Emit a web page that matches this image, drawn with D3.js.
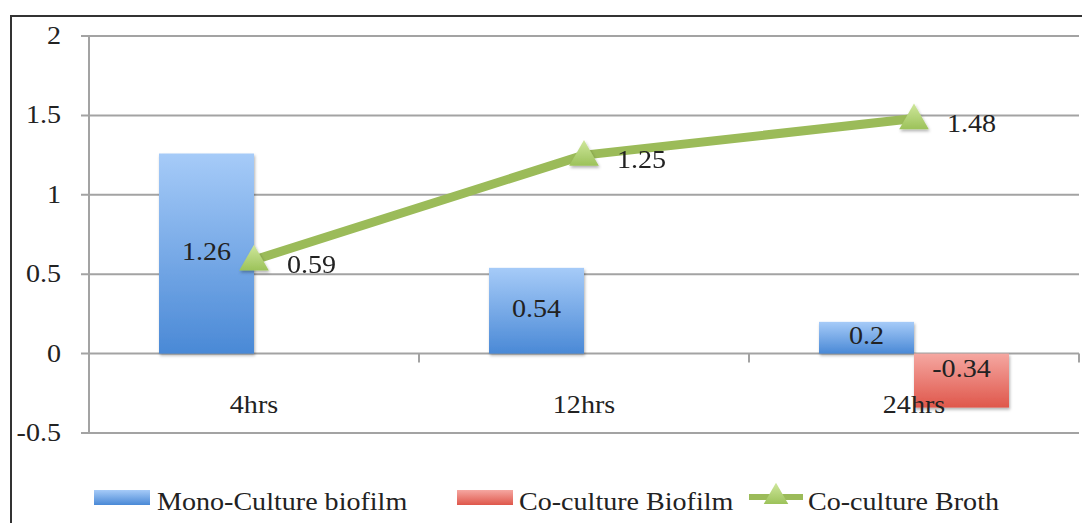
<!DOCTYPE html>
<html><head><meta charset="utf-8">
<script src="https://cdn.jsdelivr.net/npm/d3@7"></script>
<style>
html,body{margin:0;padding:0;background:#fff;}
svg{display:block;}
text{font-family:"Liberation Serif","Times New Roman",serif;fill:#222;}
</style></head>
<body>
<svg id="chart" width="1082" height="523"></svg>
<script>
const categories = ["4hrs", "12hrs", "24hrs"];
const monoBiofilm = [1.26, 0.54, 0.2];
const coBiofilm = [null, null, -0.34];
const coBroth = [0.59, 1.25, 1.48];
const yTicks = [-0.5, 0, 0.5, 1, 1.5, 2];
const seriesNames = ["Mono-Culture biofilm", "Co-culture Biofilm", "Co-culture Broth"];

const svg = d3.select("#chart");
const SX = 1.08, FS = 26;
function txt(g, x, y, s, anchor) {
  return g.append("text").attr("transform", `translate(${x},${y}) scale(${SX},1)`)
    .attr("text-anchor", anchor || "start").attr("font-size", FS).text(s);
}

const defs = svg.append("defs");
const gb = defs.append("linearGradient").attr("id","gBlue").attr("x1",0).attr("y1",0).attr("x2",0).attr("y2",1);
gb.append("stop").attr("offset","0%").attr("stop-color","#a6cbf8");
gb.append("stop").attr("offset","100%").attr("stop-color","#4a89d6");
const gr = defs.append("linearGradient").attr("id","gRed").attr("x1",0).attr("y1",0).attr("x2",0).attr("y2",1);
gr.append("stop").attr("offset","0%").attr("stop-color","#f5a7a1");
gr.append("stop").attr("offset","100%").attr("stop-color","#df574b");
const gg = defs.append("linearGradient").attr("id","gGreen").attr("x1",0).attr("y1",0).attr("x2",0).attr("y2",1);
gg.append("stop").attr("offset","0%").attr("stop-color","#cfe79c");
gg.append("stop").attr("offset","100%").attr("stop-color","#9cc25a");
const sh = defs.append("filter").attr("id","shadow").attr("x","-20%").attr("y","-20%").attr("width","140%").attr("height","140%");
sh.append("feDropShadow").attr("dx",1).attr("dy",2).attr("stdDeviation",1.5).attr("flood-color","#000").attr("flood-opacity",0.3);

// frame
svg.append("path").attr("d","M11,530 L11,16 L1090,16").attr("fill","none").attr("stroke","#333").attr("stroke-width",2);

const x = d3.scaleBand().domain(categories).range([89, 1079]);
const y = d3.scaleLinear().domain([-0.5, 2]).range([433, 36]);
const barW = 95;
const inner = d3.scaleBand().domain(["mono","co"]).range([x.bandwidth()/2 - barW, x.bandwidth()/2 + barW]);

// gridlines
svg.append("g").selectAll("line").data(yTicks).join("line")
  .attr("x1", 81).attr("x2", 1079).attr("y1", d => y(d)).attr("y2", d => y(d))
  .attr("stroke", "#a3a3a3").attr("stroke-width", 2);
// y axis line
svg.append("line").attr("x1",89).attr("x2",89).attr("y1",y(2)).attr("y2",y(-0.5)).attr("stroke","#a3a3a3").attr("stroke-width",2);
// category ticks at zero line
const bounds = [89, ...categories.slice(1).map(c => x(c)), 1079];
svg.append("g").selectAll("line").data(bounds).join("line")
  .attr("x1", d => d).attr("x2", d => d).attr("y1", y(0)).attr("y2", y(0) + 9)
  .attr("stroke", "#a3a3a3").attr("stroke-width", 2);

// y tick labels
const yl = svg.append("g");
yTicks.forEach(t => txt(yl, 61, y(t) + 8, String(t), "end"));

// bars
const bars = svg.append("g").attr("filter","url(#shadow)");
categories.forEach((c, i) => {
  const v = monoBiofilm[i];
  if (v != null) bars.append("rect").attr("x", x(c) + inner("mono")).attr("width", inner.bandwidth())
    .attr("y", y(Math.max(0, v))).attr("height", Math.abs(y(v) - y(0))).attr("fill", "url(#gBlue)");
  const w = coBiofilm[i];
  if (w != null) bars.append("rect").attr("x", x(c) + inner("co")).attr("width", inner.bandwidth())
    .attr("y", y(Math.max(0, w))).attr("height", Math.abs(y(w) - y(0))).attr("fill", "url(#gRed)");
});

// category labels
const cl = svg.append("g");
categories.forEach(c => txt(cl, x(c) + x.bandwidth()/2, 413, c, "middle"));

// bar labels
const bl = svg.append("g");
categories.forEach((c, i) => {
  const v = monoBiofilm[i];
  if (v != null) txt(bl, x(c) + inner("mono") + inner.bandwidth()/2, (y(v) + y(0))/2 + 6, String(v), "middle");
  const w = coBiofilm[i];
  if (w != null) txt(bl, x(c) + inner("co") + inner.bandwidth()/2, y(0) + 23, String(w), "middle");
});

// line
const cx = c => x(c) + x.bandwidth()/2;
const line = d3.line().x((d, i) => cx(categories[i])).y(d => y(d));
svg.append("path").datum(coBroth).attr("d", line).attr("fill","none")
  .attr("stroke","#9bbb59").attr("stroke-width",9).attr("stroke-linejoin","round");
const tri = d3.symbol().type(d3.symbolTriangle).size(380);
svg.append("g").attr("filter","url(#shadow)").selectAll("path").data(coBroth).join("path")
  .attr("d", tri).attr("transform", (d, i) => `translate(${cx(categories[i])},${y(d) + 2})`)
  .attr("fill", "url(#gGreen)");
const ll = svg.append("g");
coBroth.forEach((d, i) => txt(ll, cx(categories[i]) + 33, y(d) + 13, String(d), "start"));

// legend
const lg = svg.append("g");
lg.append("rect").attr("x",94).attr("y",490).attr("width",56).attr("height",15).attr("fill","url(#gBlue)");
txt(lg, 157, 510, seriesNames[0]);
lg.append("rect").attr("x",457).attr("y",490).attr("width",56).attr("height",15).attr("fill","url(#gRed)");
txt(lg, 519, 510, seriesNames[1]);
lg.append("line").attr("x1",749).attr("x2",803).attr("y1",497).attr("y2",497).attr("stroke","#9bbb59").attr("stroke-width",6);
lg.append("path").attr("d", d3.symbol().type(d3.symbolTriangle).size(260)).attr("transform","translate(776,497)").attr("fill","url(#gGreen)");
txt(lg, 808, 510, seriesNames[2]);
</script>
</body></html>
